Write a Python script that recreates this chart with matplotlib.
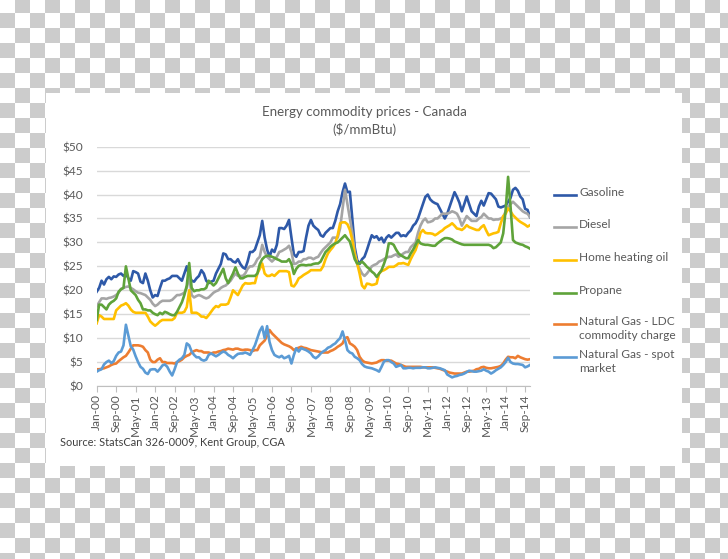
import numpy as np
import pandas as pd
import matplotlib
matplotlib.use("Agg")
import matplotlib.pyplot as plt
from matplotlib.lines import Line2D
from matplotlib.patches import Rectangle

plt.rcParams['font.family'] = ['Lato', 'DejaVu Sans']

# --- data: monthly, Jan-2000 .. Nov-2014 ($/mmBtu) ---
months = pd.date_range("2000-01-01", periods=179, freq="MS")

gasoline = [
    19.7, 20.5, 22.0, 21.2, 22.3, 22.8, 22.3, 22.9, 22.8, 23.3, 23.5, 23.0,
    23.5, 22.5, 22.0, 24.0, 23.8, 23.5, 21.8, 21.5, 23.5, 22.0, 20.0, 18.5,
    19.0, 18.8, 20.5, 22.0, 22.0, 22.3, 22.5, 23.0, 23.0, 23.0, 22.5, 22.0,
    23.5, 25.0, 23.0, 22.0, 21.8, 22.5, 23.0, 24.2, 23.5, 22.0, 21.5, 21.8,
    22.0, 23.5, 24.5, 25.5, 27.7, 27.5, 26.5, 26.5, 26.0, 25.8, 26.5, 25.5,
    24.8, 24.5, 26.0, 28.0, 28.0, 28.5, 30.0, 31.5, 34.5, 31.0, 28.5, 27.0,
    28.5, 28.0, 29.5, 33.0, 33.0, 32.8, 33.5, 34.7, 31.0, 27.5, 27.0, 28.0,
    28.0, 28.2, 31.0, 33.5, 34.7, 33.5, 33.0, 32.6, 31.5, 31.2, 32.0, 32.5,
    33.0, 33.0, 34.5, 36.5, 38.0, 40.5, 42.3, 40.5, 40.6, 35.0, 29.0, 26.3,
    25.5, 26.5, 27.0, 28.4, 30.0, 31.5, 31.0, 31.3, 30.5, 31.0, 30.0, 31.0,
    31.5, 31.0, 31.5, 32.0, 32.0, 31.3, 31.5, 31.3, 32.0, 32.5, 33.5, 34.0,
    35.0, 36.5, 38.0, 39.5, 40.0, 39.0, 38.5, 38.2, 38.0, 37.0, 36.0, 35.0,
    36.0, 37.5, 39.0, 40.5, 39.5, 38.3, 36.5, 38.0, 39.6, 38.0, 36.5, 36.0,
    35.5, 37.5, 38.7, 37.7, 39.0, 40.3, 40.2, 39.6, 39.0, 37.5, 37.3, 37.5,
    37.7, 38.5, 39.3, 41.0, 41.4, 40.8, 39.6, 39.0, 37.0, 36.8, 35.3,
]

diesel = [
    16.6, 17.5, 18.3, 18.3, 18.2, 18.4, 18.5, 18.7, 19.0, 19.5, 20.3, 20.5,
    20.7, 20.8, 20.5, 20.2, 19.8, 19.5, 19.4, 19.2, 19.0, 18.5, 18.0, 17.2,
    16.7, 17.0, 17.5, 17.8, 17.8, 17.8, 17.8, 18.0, 18.5, 19.0, 19.0, 19.2,
    19.5, 20.5, 23.0, 19.0, 18.5, 18.8, 19.0, 18.8, 18.5, 18.3, 18.5, 19.0,
    19.5, 19.8, 20.0, 20.5, 20.8, 21.0, 21.5, 22.0, 22.8, 23.5, 23.0, 23.0,
    23.0, 23.5, 24.5, 25.0, 25.0, 25.5, 26.5, 27.0, 29.5, 28.0, 27.0, 26.5,
    26.0, 26.5, 27.0, 28.0, 28.2, 28.5, 28.8, 29.3, 28.0, 25.5, 25.6, 26.0,
    26.0, 26.5, 26.5, 26.8, 26.8, 26.5, 26.8, 27.0, 27.8, 28.5, 29.0, 29.5,
    30.0, 31.0, 31.0, 31.0, 33.0, 37.0, 41.0, 38.0, 35.0, 32.0, 28.0, 25.5,
    24.5, 23.5, 23.0, 23.5, 24.2, 25.0, 25.3, 25.5, 26.0, 26.2, 26.5, 26.8,
    27.0, 27.0, 27.3, 27.5, 27.0, 27.3, 27.7, 28.0, 28.0, 29.0, 29.5, 30.0,
    32.0, 33.5, 34.5, 35.0, 34.2, 34.3, 34.5, 35.0, 35.0, 35.5, 36.0, 36.0,
    36.0, 36.2, 36.5, 36.3, 36.0, 35.0, 33.5, 34.5, 35.5, 35.0, 34.5, 34.5,
    34.5, 35.0, 35.3, 36.0, 35.5, 35.0, 35.0, 34.7, 34.8, 34.8, 35.0, 35.3,
    36.5, 37.5, 38.0, 38.5, 38.0, 37.5, 37.0, 36.5, 36.2, 36.0, 35.3,
]

heating_oil = [
    13.1, 14.8, 14.5, 14.0, 14.0, 14.0, 14.0, 14.0, 15.8, 16.3, 16.8, 17.0,
    17.3, 16.8, 16.0, 15.5, 15.3, 15.3, 15.3, 15.3, 15.3, 14.5, 13.5, 13.0,
    12.6, 13.0, 13.5, 13.8, 13.8, 13.8, 13.8, 13.8, 14.2, 15.3, 15.3, 15.3,
    15.5, 16.5, 20.0, 15.3, 15.3, 15.3, 15.0, 14.5, 14.5, 14.2, 14.8, 15.5,
    16.2, 16.7, 16.5, 17.0, 17.0, 17.0, 17.2, 18.5, 20.0, 19.5, 19.0, 20.0,
    21.0, 21.5, 21.4, 21.4, 21.5, 21.5, 23.5, 24.5, 25.6, 23.5, 23.0, 23.0,
    23.3, 23.0, 23.5, 24.0, 24.0, 24.0, 24.0, 23.8, 21.0, 20.8, 21.5, 22.5,
    22.8, 23.2, 23.5, 23.8, 24.2, 24.2, 24.2, 24.2, 24.2, 25.0, 26.5, 27.7,
    28.4, 29.0, 29.8, 31.5, 34.0, 34.2, 34.2, 33.8, 32.6, 30.5, 27.5, 25.6,
    23.5, 21.0, 20.4, 21.4, 21.3, 21.1, 21.2, 21.4, 23.5, 24.0, 24.2, 24.5,
    24.9, 24.9, 24.9, 25.2, 25.6, 25.6, 25.7, 25.5, 25.3, 26.5, 27.5, 28.4,
    30.0, 32.0, 32.6, 32.0, 31.9, 31.9, 31.8, 31.5, 31.8, 32.2, 32.5, 33.0,
    33.3, 33.6, 34.0, 33.5, 32.9, 32.8, 32.6, 33.0, 33.6, 33.2, 33.0, 32.8,
    32.6, 32.6, 33.2, 33.6, 32.5, 31.5, 31.7, 31.9, 32.0, 32.2, 34.0, 35.5,
    36.0, 37.1, 36.5, 35.7, 35.2, 34.7, 34.3, 34.0, 33.7, 33.3, 33.6,
]

propane = [
    13.8, 17.0, 17.0, 16.5, 16.0, 17.0, 17.5, 17.8, 18.3, 19.7, 20.2, 20.5,
    25.0, 22.5, 20.0, 19.5, 19.0, 18.0, 17.3, 16.0, 16.0, 15.8, 15.8, 15.3,
    15.0, 14.8, 15.3, 15.0, 15.5, 15.3, 15.0, 14.8, 14.8, 15.5, 16.5, 17.5,
    19.0, 21.0, 25.7, 20.5, 19.8, 20.0, 20.0, 20.2, 20.2, 20.5, 22.0, 21.5,
    21.0, 21.5, 22.5, 23.5, 24.5, 22.5, 21.5, 22.5, 23.5, 24.8, 23.5, 22.5,
    22.5, 22.8, 23.0, 23.0, 23.0, 23.0, 23.5, 25.5, 26.5, 27.0, 27.2, 27.2,
    27.0, 26.8, 26.5, 26.3, 26.0, 26.0, 26.0, 26.5, 25.5, 23.4, 24.5, 25.1,
    25.3, 25.3, 25.2, 25.3, 25.3, 25.5, 25.6, 25.6, 26.0, 27.0, 28.0, 28.5,
    29.1, 29.5, 29.8, 30.0, 30.5, 31.0, 31.5, 30.8, 30.2, 28.4, 26.5, 25.6,
    25.6, 26.0, 25.5, 24.9, 24.5, 23.9, 23.5, 22.8, 23.5, 24.2, 25.5, 27.0,
    29.8, 29.8, 29.5, 28.5, 27.7, 27.3, 27.0, 26.7, 26.7, 27.7, 28.5, 29.5,
    30.5, 29.8, 29.6, 29.5, 29.5, 29.4, 29.3, 29.3, 29.8, 30.2, 30.6, 30.9,
    30.9, 30.8, 30.6, 30.2, 30.0, 29.8, 29.6, 29.5, 29.5, 29.5, 29.5, 29.5,
    29.5, 29.5, 29.5, 29.5, 29.5, 29.5, 29.3, 28.8, 29.0, 29.5, 30.0, 31.9,
    36.8, 43.7, 37.5, 30.5, 30.0, 29.8, 29.6, 29.5, 29.2, 29.0, 28.7,
]

gas_ldc = [
    3.5, 3.5, 3.6, 3.7, 3.9, 4.1, 4.4, 4.6, 4.7, 5.2, 5.6, 6.0,
    6.3, 7.0, 7.8, 8.5, 8.5, 8.5, 8.4, 8.2, 7.5, 7.0, 5.5, 5.0,
    5.0, 5.5, 5.8, 5.0, 5.0, 4.8, 4.8, 4.8, 4.7, 5.0, 5.2, 5.5,
    6.0, 6.3, 6.5, 7.0, 7.3, 7.5, 7.3, 7.3, 7.0, 7.0, 7.0, 6.8,
    7.0, 7.0, 7.2, 7.3, 7.5, 7.6, 7.8, 7.7, 7.6, 7.8, 7.8, 7.6,
    7.5, 7.6, 7.6, 7.5, 7.3, 7.5, 7.5, 8.5, 9.0, 9.5, 10.5, 11.7,
    11.0, 10.5, 10.0, 9.5, 9.0, 8.7, 8.5, 8.3, 8.0, 7.5, 7.8, 8.0,
    8.2, 8.0, 7.9, 7.7, 7.5, 7.4, 7.3, 7.2, 7.1, 7.0, 7.0, 7.0,
    7.3, 7.5, 7.8, 8.2, 8.5, 8.9, 10.0, 10.2, 8.9, 8.6, 8.2, 7.5,
    6.1, 5.4, 5.0, 4.9, 4.8, 4.7, 4.8, 4.9, 5.2, 5.4, 5.4, 5.3,
    5.3, 5.3, 5.0, 4.7, 4.6, 4.4, 4.2, 4.0, 4.0, 4.0, 4.0, 4.0,
    4.0, 4.0, 3.9, 3.9, 3.9, 3.9, 3.9, 3.8, 3.7, 3.6, 3.4, 3.2,
    3.0, 2.8, 2.7, 2.6, 2.6, 2.6, 2.6, 2.8, 3.0, 3.0, 3.1, 3.2,
    3.5, 3.6, 3.9, 4.0, 3.8, 3.7, 3.7, 3.8, 3.9, 4.0, 4.2, 4.7,
    5.5, 6.1, 6.0, 6.0, 5.8, 6.3, 6.0, 5.8, 5.6, 5.5, 5.6,
]

gas_spot = [
    3.0, 3.3, 3.5, 4.5, 5.0, 5.3, 4.8, 5.2, 6.3, 7.0, 7.2, 8.5,
    12.8, 10.5, 8.3, 7.6, 6.2, 5.0, 4.0, 3.6, 2.8, 2.5, 3.4, 3.5,
    3.5, 3.0, 3.6, 4.3, 4.5, 4.0, 3.0, 2.2, 3.5, 5.0, 5.5, 5.8,
    6.5, 8.9, 8.5, 7.2, 6.5, 6.0, 6.0, 5.5, 5.3, 5.5, 6.5, 6.8,
    6.5, 6.2, 6.5, 6.9, 7.2, 7.0, 6.5, 6.2, 5.8, 6.3, 6.7, 6.8,
    6.8, 7.0, 6.8, 6.5, 7.5, 8.5, 10.0, 11.5, 12.4, 10.0, 12.5, 9.2,
    7.5, 6.5, 6.2, 6.0, 6.3, 5.8, 6.0, 6.3, 4.7, 6.5, 7.9, 7.2,
    7.9, 7.7, 7.5, 7.2, 6.8, 6.1, 5.8, 6.2, 6.8, 7.2, 7.5, 8.0,
    8.2, 8.6, 8.9, 9.5, 10.0, 11.4, 9.6, 7.5, 7.0, 6.8, 6.1, 5.8,
    5.4, 4.6, 4.1, 3.9, 3.8, 3.7, 3.5, 3.3, 3.0, 4.0, 5.1, 5.4,
    5.4, 5.0, 4.7, 4.0, 4.2, 4.4, 3.7, 3.7, 3.8, 3.8, 3.7, 3.8,
    3.8, 3.8, 3.9, 3.9, 3.7, 3.7, 3.8, 3.9, 3.8, 3.7, 3.5, 3.3,
    2.4, 2.1, 1.8, 2.0, 2.1, 2.3, 2.4, 2.6, 2.9, 3.2, 3.1, 3.0,
    3.0, 3.1, 3.2, 3.5, 3.2, 3.0, 2.6, 2.9, 3.3, 3.6, 3.9, 4.4,
    5.0, 5.9, 5.0, 4.7, 4.6, 4.6, 4.5, 4.4, 3.9, 4.1, 4.4,
]

series_names = ["Gasoline", "Diesel", "Home heating oil", "Propane",
                "Natural Gas - LDC\ncommodity charge", "Natural Gas - spot\nmarket"]
series_values = [gasoline, diesel, heating_oil, propane, gas_ldc, gas_spot]
series_colors = ["#2E59A8", "#A5A5A5", "#FFC000", "#5FA33A", "#ED7D31", "#5B9BD5"]

W, H = 728, 559
fig = plt.figure(figsize=(W / 100, H / 100), dpi=100)


def fx(x):
    return x / W


def fy(y):
    return 1 - y / H


# checkerboard backdrop with white chart panel
bg = fig.add_axes([0, 0, 1, 1], zorder=-10)
yy, xx = np.mgrid[0:H, 0:W]
checker = ((xx // 15 + (yy + 2) // 15) % 2).astype(float)
bg.imshow(checker, cmap=matplotlib.colors.ListedColormap(["white", "#CCCCCC"]),
          interpolation="nearest", aspect="auto")
bg.set_axis_off()
fig.patches.append(Rectangle((fx(46), fy(466)), fx(682) - fx(46), fy(93) - fy(466),
                             transform=fig.transFigure, facecolor="white",
                             edgecolor="none", zorder=-5))

ax = fig.add_axes([fx(96.7), fy(386), fx(530) - fx(96.7), fy(146.7) - fy(386)])
ax.patch.set_alpha(0)
x = np.arange(len(months))
for vals, col in zip(series_values, series_colors):
    ax.plot(x, vals, color=col, lw=1.9, solid_joinstyle="round", zorder=3)

ax.set_xlim(0, len(months) - 1)
ax.set_ylim(0, 50)
ax.set_yticks(range(0, 51, 5))
ax.set_yticklabels([f"${v}" for v in range(0, 51, 5)])
ax.grid(axis="y", color="#D9D9D9", lw=1.0)
ax.set_axisbelow(True)
tick_pos = list(range(0, len(months), 8))
ax.set_xticks(tick_pos)
ax.set_xticklabels([months[i].strftime("%b-%y") for i in tick_pos], rotation=90)
for s in ["top", "right", "left"]:
    ax.spines[s].set_visible(False)
ax.spines["bottom"].set_color("#BFBFBF")
ax.tick_params(axis="y", length=0, pad=10, labelsize=8.6, labelcolor="#595959")
ax.tick_params(axis="x", length=4, color="#BFBFBF", pad=2, labelsize=8.6,
               labelcolor="#595959")

# title
fig.text(fx(364), fy(112), "Energy commodity prices - Canada", ha="center", va="center",
         fontsize=9.6, color="#595959")
fig.text(fx(364), fy(129), "($/mmBtu)", ha="center", va="center",
         fontsize=9.6, color="#595959")

# legend on the right
legend_y = [195, 227, 260, 293, 324, 357]
for name, col, ly in zip(series_names, series_colors, legend_y):
    fig.add_artist(Line2D([fx(554), fx(576)], [fy(ly), fy(ly)], color=col, lw=1.9,
                          transform=fig.transFigure))
    fig.text(fx(579), fy(ly - 8), name, ha="left", va="top", fontsize=8.6,
             color="#595959", linespacing=1.3)

fig.text(fx(60), fy(443), "Source: StatsCan 326-0009, Kent Group, CGA", ha="left",
         va="center", fontsize=7.9, color="#404040")

fig.savefig("out.png", dpi=100)
